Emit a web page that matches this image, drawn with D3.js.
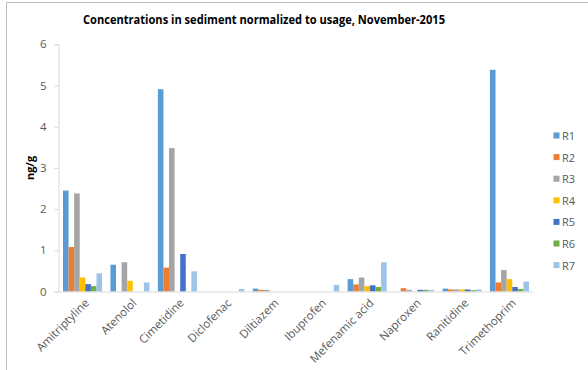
<!DOCTYPE html>
<html><head><meta charset="utf-8">
<script src="https://cdn.jsdelivr.net/npm/d3@7"></script>
<style>body{margin:0;background:#fff}svg{display:block}</style>
</head><body><svg id="c" width="588" height="370"></svg>
<script>
const categories = ["Amitriptyline","Atenolol","Cimetidine","Diclofenac","Diltiazem","Ibuprofen","Mefenamic acid","Naproxen","Ranitidine","Trimethoprim"];
const seriesNames = ["R1","R2","R3","R4","R5","R6","R7"];
const R1 = [2.45, 0.65, 4.91, 0,    0.07, 0,    0.30, 0,    0.07, 5.38];
const R2 = [1.08, 0,    0.58, 0,    0.04, 0,    0.17, 0.08, 0.05, 0.22];
const R3 = [2.38, 0.71, 3.48, 0,    0.04, 0,    0.34, 0.04, 0.05, 0.52];
const R4 = [0.34, 0.26, 0,    0,    0,    0,    0.13, 0,    0.05, 0.30];
const R5 = [0.18, 0,    0.91, 0,    0,    0,    0.15, 0.04, 0.05, 0.11];
const R6 = [0.13, 0,    0,    0,    0,    0,    0.11, 0.04, 0.03, 0.06];
const R7 = [0.44, 0.22, 0.49, 0.06, 0,    0.16, 0.71, 0.04, 0.05, 0.24];
const yTicks = [0,1,2,3,4,5,6];
const colors = ["#5B9BD5","#ED7D31","#A5A5A5","#FFC000","#4472C4","#70AD47","#9DC3E6"];
const seriesValues = [R1,R2,R3,R4,R5,R6,R7];

const svg = d3.select("#c");
// frame
svg.append("rect").attr("x",6.5).attr("y",2.5).attr("width",600).attr("height",400)
  .attr("fill","none").attr("stroke","#bfbfbf").attr("stroke-width",1);

const x0 = d3.scaleBand().domain(categories).range([58.8,533.2]).paddingInner(0).paddingOuter(0);
// Excel gap width 150%: outer padding = 0.75 bar each side
const x1 = d3.scaleBand().domain(seriesNames).range([0,x0.bandwidth()]).paddingOuter(0.75).paddingInner(0);
const y = d3.scaleLinear().domain([0,6]).range([291.5,44.3]);

const gridC = "#d9d9d9", textC = "#595959";
// title
svg.append("text").attr("x",264).attr("y",24).attr("text-anchor","middle")
  .attr("font-family","'Open Sans', sans-serif").attr("font-weight","bold").attr("font-size",12.5)
  .attr("fill","#000").attr("textLength",362).attr("lengthAdjust","spacingAndGlyphs")
  .text("Concentrations in sediment normalized to usage, November-2015");

// y axis
const yAxis = d3.axisLeft(y).tickValues(yTicks).tickSize(4).tickPadding(8).tickFormat(d3.format("d"));
const ya = svg.append("g").attr("transform","translate(58.5,0)").call(yAxis);
ya.select(".domain").attr("stroke",gridC);
ya.selectAll(".tick line").attr("stroke",gridC);
ya.selectAll(".tick text").attr("fill",textC).attr("font-family","'Open Sans', sans-serif").attr("font-size",11.5);

// bars
const g = svg.append("g");
categories.forEach((c,i)=>{
  seriesNames.forEach((s,j)=>{
    const v = seriesValues[j][i];
    if(v<=0) return;
    g.append("rect").attr("x",x0(c)+x1(s)).attr("width",x1.bandwidth())
      .attr("y",y(v)).attr("height",y(0)-y(v)).attr("fill",colors[j]);
  });
});

// x axis
const xAxis = d3.axisBottom(x0).tickSize(0).tickPadding(6);
const xa = svg.append("g").attr("transform","translate(0,291.5)").call(xAxis);
xa.select(".domain").attr("stroke",gridC).attr("d","M58.5,0.5H533.2");
xa.selectAll(".tick text").attr("fill",textC).attr("font-family","'Open Sans', sans-serif").attr("font-size",11.5)
  .attr("text-anchor","end").attr("dy",0)
  .attr("transform","translate(3,8) rotate(-45)");

// y label
svg.append("text").attr("transform","translate(34,168) rotate(-90)").attr("text-anchor","middle")
  .attr("font-family","'Open Sans', sans-serif").attr("font-weight","bold").attr("font-size",11)
  .attr("fill","#000").text("ng/g");

// legend
const lg = svg.append("g");
seriesNames.forEach((s,j)=>{
  const yy = 136 + j*21.6;
  lg.append("rect").attr("x",553.5).attr("y",yy-3.5).attr("width",6).attr("height",6).attr("fill",colors[j]);
  lg.append("text").attr("x",562).attr("y",yy+4).attr("fill",textC)
    .attr("font-family","'Open Sans', sans-serif").attr("font-size",11).text(s);
});
</script></body></html>
